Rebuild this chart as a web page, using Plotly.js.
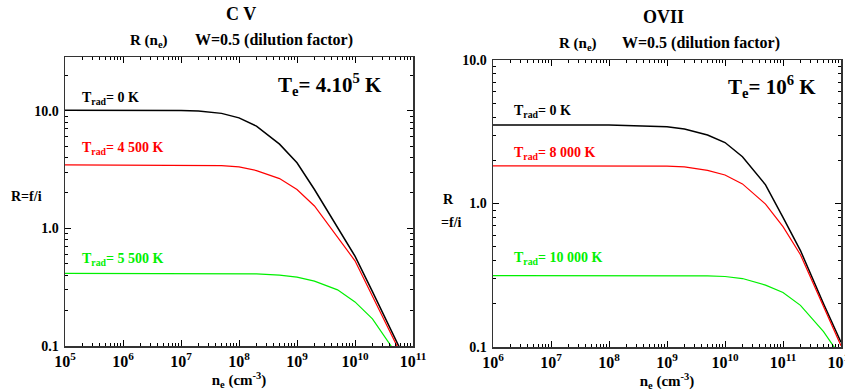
<!DOCTYPE html>
<html><head><meta charset="utf-8">
<script src="https://cdn.plot.ly/plotly-3.0.1.min.js"></script>
<style>html,body{margin:0;padding:0;background:#fff}#chart{width:845px;height:392px}</style>
</head><body><div id="chart"></div>
<script>
// ---- C V panel (Te = 4e5 K) ----
const neCV = [1e5, 1e6, 1e7, 2e7, 5e7, 1e8, 2e8, 5e8, 1e9, 2e9, 5e9, 1e10, 2e10, 5e10, 1e11];
const cvTrad0    = [10.1, 10.1, 10.05, 9.95, 9.5, 8.7, 7.4, 5.2, 3.61, 2.14, 1.02, 0.58, 0.29, 0.112, 0.056];
const cvTrad4500 = [3.47, 3.47, 3.46, 3.45, 3.42, 3.33, 3.1, 2.65, 2.14, 1.55, 0.83, 0.53, 0.265, 0.106, 0.053];
const cvTrad5500 = [0.414, 0.414, 0.414, 0.414, 0.413, 0.412, 0.41, 0.40, 0.385, 0.356, 0.30, 0.237, 0.17, 0.088, 0.044];
const cvExponents = [5, 6, 7, 8, 9, 10, 11];

// ---- OVII panel (Te = 1e6 K) ----
const neO7 = [1e6, 1e7, 1e8, 1e9, 2e9, 5e9, 1e10, 2e10, 5e10, 1e11, 2e11, 5e11, 1e12];
const o7Trad0     = [3.52, 3.52, 3.52, 3.43, 3.30, 3.0, 2.66, 2.12, 1.35, 0.80, 0.47, 0.20, 0.108];
const o7Trad8000  = [1.83, 1.83, 1.83, 1.82, 1.80, 1.70, 1.58, 1.37, 0.99, 0.69, 0.44, 0.19, 0.102];
const o7Trad10000 = [0.314, 0.314, 0.314, 0.314, 0.314, 0.313, 0.31, 0.30, 0.27, 0.24, 0.195, 0.128, 0.085];
const o7Exponents = [6, 7, 8, 9, 10, 11, 12];

const yTickVals = [0.1, 1, 10];
const yTickText = ['0.1', '1.0', '10.0'];

const W = 845, H = 392;
const px = v => v / W, py = v => 1 - v / H;
const FONT = 'Liberation Serif, Times New Roman, serif';
const GREEN = '#00f000';

function line(x, y, color, width, xa, ya) {
  return {x: x, y: y, type: 'scatter', mode: 'lines', line: {color: color, width: width, shape: 'linear'},
          xaxis: xa, yaxis: ya, showlegend: false, hoverinfo: 'skip'};
}
const traces = [
  line(neCV, cvTrad0, '#000000', 1.5, 'x', 'y'),
  line(neCV, cvTrad4500, '#ff0000', 1.2, 'x', 'y'),
  line(neCV, cvTrad5500, GREEN, 1.2, 'x', 'y'),
  line(neO7, o7Trad0, '#000000', 1.5, 'x2', 'y2'),
  line(neO7, o7Trad8000, '#ff0000', 1.2, 'x2', 'y2'),
  line(neO7, o7Trad10000, GREEN, 1.2, 'x2', 'y2')
];

function xAxis(exps, dom, anchor) {
  return {
    type: 'log', domain: dom, anchor: anchor,
    range: [exps[0], exps[exps.length - 1]],
    tickmode: 'array', tickvals: exps.map(e => Math.pow(10, e)),
    ticktext: exps.map(e => '10<sup>' + e + '</sup>'),
    ticklabeloverflow: 'allow',
    ticks: 'inside', ticklen: 6, tickwidth: 1, tickcolor: '#000',
    minor: {dtick: 'D1', ticks: 'inside', ticklen: 3, tickwidth: 1, tickcolor: '#000'},
    showline: true, linecolor: '#333', linewidth: 1.5, mirror: 'allticks',
    showgrid: false, zeroline: false,
    tickfont: {family: FONT, size: 16, color: '#000', weight: 'bold'},
    title: {text: 'n<sub>e</sub> (cm<sup>-3</sup>)', font: {family: FONT, size: 15, color: '#000', weight: 'bold'}, standoff: 2}
  };
}
function yAxis(range, dom, anchor) {
  return {
    type: 'log', domain: dom, anchor: anchor, range: range,
    tickmode: 'array', tickvals: yTickVals, ticktext: yTickText,
    ticklabeloverflow: 'allow', ticklabelstandoff: 2,
    ticks: 'inside', ticklen: 6, tickwidth: 1, tickcolor: '#000',
    minor: {dtick: 'D1', ticks: 'inside', ticklen: 3, tickwidth: 1, tickcolor: '#000'},
    showline: true, linecolor: '#333', linewidth: 1.5, mirror: 'allticks',
    showgrid: false, zeroline: false,
    tickfont: {family: FONT, size: 14, color: '#000', weight: 'bold'}
  };
}

function ann(text, x, y, size, color, xanchor) {
  return {text: text, x: px(x), y: py(y), xref: 'paper', yref: 'paper', showarrow: false,
          xanchor: xanchor || 'center', yanchor: 'middle',
          font: {family: FONT, size: size, color: color || '#000', weight: 'bold'}};
}

const annotations = [
  ann('C V', 241, 14, 18),
  ann('R (n<sub>e</sub>)', 149, 41, 15),
  ann('W=0.5 (dilution factor)', 193, 40, 16, '#000', 'left'),
  ann('OVII', 663, 17, 18),
  ann('R (n<sub>e</sub>)', 578, 44, 15),
  ann('W=0.5 (dilution factor)', 620, 43, 16, '#000', 'left'),
  ann('T<sub>e</sub>= 4.10<sup>5</sup> K', 276, 84, 21, '#000', 'left'),
  ann('T<sub>e</sub>= 10<sup>6</sup> K', 726, 87, 21, '#000', 'left'),
  ann('T<sub>rad</sub>= 0 K', 80, 98, 14, '#000', 'left'),
  ann('T<sub>rad</sub>= 4 500 K', 80, 149, 14, '#ff0000', 'left'),
  ann('T<sub>rad</sub>= 5 500 K', 80, 259, 14, GREEN, 'left'),
  ann('T<sub>rad</sub>= 0 K', 512, 111, 14, '#000', 'left'),
  ann('T<sub>rad</sub>= 8 000 K', 512, 153, 14, '#ff0000', 'left'),
  ann('T<sub>rad</sub>= 10 000 K', 512, 258, 14, GREEN, 'left'),
  ann('R=f/i', 9, 196, 14, '#000', 'left'),
  ann('R', 441, 199, 14, '#000', 'left'),
  ann('=f/i', 439, 222, 14, '#000', 'left')
];

const layout = {
  width: W, height: H,
  margin: {l: 0, r: 0, t: 0, b: 0},
  paper_bgcolor: '#fff', plot_bgcolor: '#fff',
  font: {family: FONT, color: '#000'},
  showlegend: false,
  xaxis: xAxis(cvExponents, [px(65), px(413)], 'y'),
  yaxis: yAxis([-1, 1.457], [py(346), py(57)], 'x'),
  xaxis2: xAxis(o7Exponents, [px(493), px(841)], 'y2'),
  yaxis2: yAxis([-1, 1], [py(347), py(60)], 'x2'),
  annotations: annotations
};

Plotly.newPlot('chart', traces, layout, {staticPlot: true, displayModeBar: false});
</script>
</body></html>
